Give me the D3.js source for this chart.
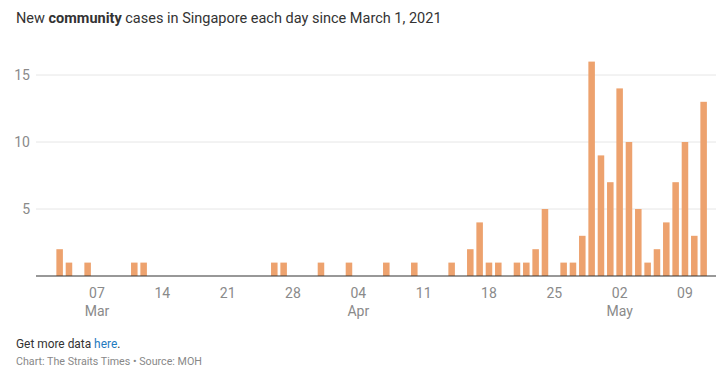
<!DOCTYPE html>
<html>
<head>
<meta charset="utf-8">
<script src="https://cdn.jsdelivr.net/npm/d3@7"></script>
<style>
  body { margin: 0; background: #fff; font-family: "Roboto", "Noto Sans", sans-serif; }
  .title { font-size: 14.5px; fill: #333; }
  .ylab, .xlab { font-size: 14px; fill: #8a8a8a; }
  .note { font-size: 11.9px; fill: #333; }
  .src { font-size: 10.7px; fill: #888; }
</style>
</head>
<body>
<div id="chart"></div>
<script>
let width = 726
let height = 376
let margin = { left: 36, right: 10, top: 60, bottom: 100 }

// one value per day, Mar 1 - May 11 2021
let startDay = new Date(2021, 2, 1)
let endDay = new Date(2021, 4, 12)
let cases = [
  // March
  0, 0, 2, 1, 0, 1, 0, 0, 0, 0, 1, 1, 0, 0, 0, 0, 0, 0, 0, 0, 0, 0, 0, 0, 0, 1, 1, 0, 0, 0, 1,
  // April
  0, 0, 1, 0, 0, 0, 1, 0, 0, 1, 0, 0, 0, 1, 0, 2, 4, 1, 1, 0, 1, 1, 2, 5, 0, 1, 1, 3, 16, 9,
  // May
  7, 14, 10, 5, 1, 2, 4, 7, 10, 3, 13
]
let yTicks = [5, 10, 15]
let xTicks = ["2021-03-07", "2021-03-14", "2021-03-21", "2021-03-28", "2021-04-04",
  "2021-04-11", "2021-04-18", "2021-04-25", "2021-05-02", "2021-05-09"]
let monthLabels = { "2021-03-07": "Mar", "2021-04-04": "Apr", "2021-05-02": "May" }

let fmt = d3.timeFormat("%Y-%m-%d")
let days = d3.timeDays(startDay, endDay).map(fmt)
let data = days.map((d, i) => ({ day: d, value: cases[i] }))

let svg = d3.select("#chart").append("svg")
  .attr("width", width)
  .attr("height", height)

// title
svg.append("text")
  .attr("class", "title")
  .attr("x", 16)
  .attr("y", 23)
  .call(t => {
    t.append("tspan").text("New ")
    t.append("tspan").attr("font-weight", "bold").text("community")
    t.append("tspan").text(" cases in Singapore each day since March 1, 2021")
  })

let xScale = d3.scaleBand(days, [36.3, 708.3]).paddingInner(0.3).paddingOuter(0.15)
let yScale = d3.scaleLinear([0, 15], [276, 75])

// gridlines
svg.selectAll(".grid")
  .data(yTicks)
  .enter()
  .append("line")
  .attr("x1", 36)
  .attr("x2", 716)
  .attr("y1", d => yScale(d))
  .attr("y2", d => yScale(d))
  .attr("stroke", "#e6e6e6")

svg.selectAll(".ylab")
  .data(yTicks)
  .enter()
  .append("text")
  .attr("class", "ylab")
  .attr("x", 30)
  .attr("y", d => yScale(d) + 5)
  .attr("text-anchor", "end")
  .text(d => d)

// bars
svg.selectAll(".bar")
  .data(data.filter(d => d.value > 0))
  .enter()
  .append("rect")
  .attr("class", "bar")
  .attr("x", d => xScale(d.day))
  .attr("width", xScale.bandwidth())
  .attr("y", d => yScale(d.value))
  .attr("height", d => yScale(0) - yScale(d.value))
  .attr("fill", "#eda26e")

// baseline
svg.append("line")
  .attr("x1", 36)
  .attr("x2", 716)
  .attr("y1", yScale(0))
  .attr("y2", yScale(0))
  .attr("stroke", "#333")
  .attr("stroke-width", 1.2)

// x labels
let xg = svg.selectAll(".xtick")
  .data(xTicks)
  .enter()
  .append("g")
  .attr("transform", d => "translate(" + (xScale(d) + xScale.bandwidth() / 2) + ",0)")

xg.append("text")
  .attr("class", "xlab")
  .attr("y", 298)
  .attr("text-anchor", "middle")
  .text(d => d.slice(8))

xg.filter(d => monthLabels[d])
  .append("text")
  .attr("class", "xlab")
  .attr("y", 316)
  .attr("text-anchor", "middle")
  .text(d => monthLabels[d])

// footer
svg.append("text")
  .attr("class", "note")
  .attr("x", 16)
  .attr("y", 348)
  .call(t => {
    t.append("tspan").text("Get more data ")
    t.append("tspan").attr("fill", "#1f7bbf").text("here")
    t.append("tspan").text(".")
  })

svg.append("text")
  .attr("class", "src")
  .attr("x", 16)
  .attr("y", 365)
  .text("Chart: The Straits Times \u2022 Source: MOH")
</script>
</body>
</html>
